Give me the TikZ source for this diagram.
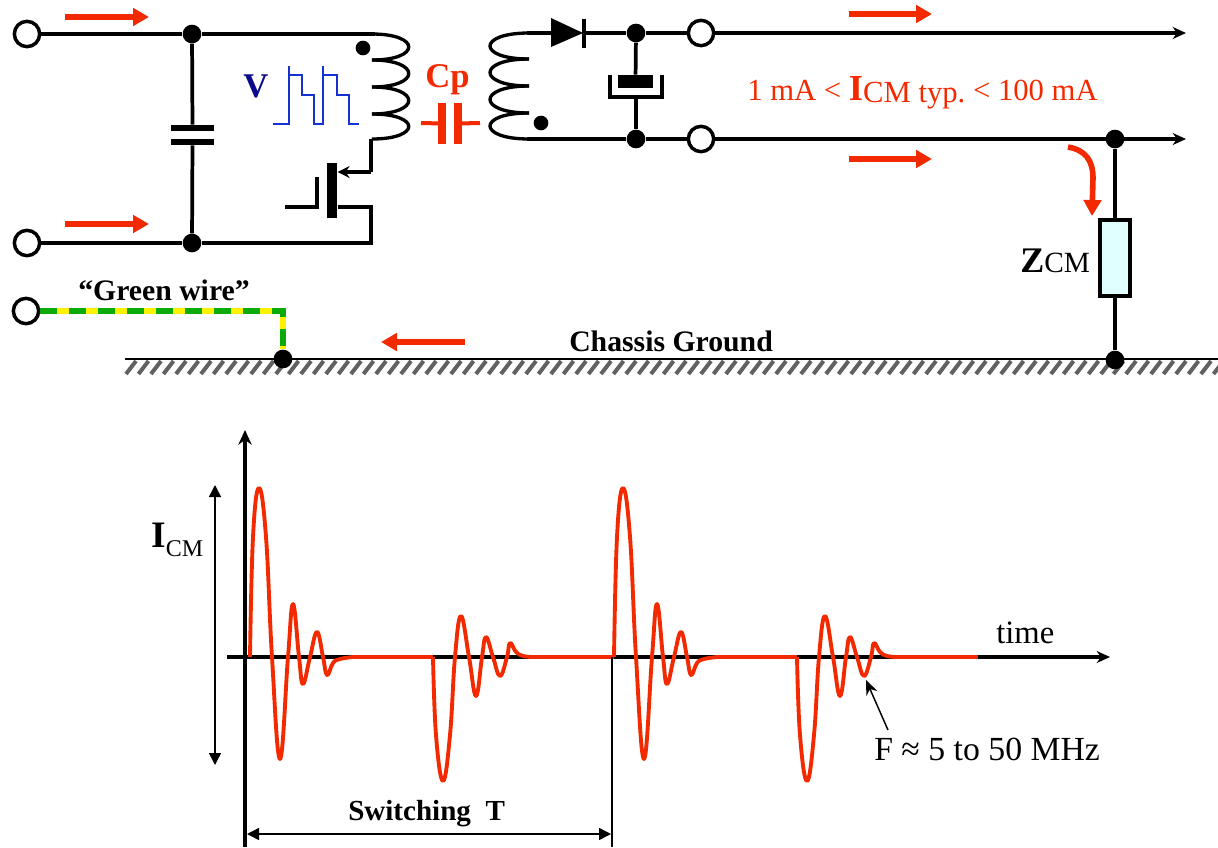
\documentclass[tikz,border=0pt]{standalone}
\usepackage{fontspec}
\usetikzlibrary{arrows.meta}
\setmainfont{Liberation Serif}
\definecolor{rojo}{RGB}{243,42,0}
\definecolor{azul}{RGB}{20,50,210}
\definecolor{marino}{RGB}{10,10,140}
\definecolor{verde}{RGB}{10,170,10}
\definecolor{celeste}{RGB}{224,255,255}
\newcommand{\tam}[1]{\fontsize{#1}{#1}\selectfont}

\begin{document}
\begin{tikzpicture}[   % una unidad = un pixel de la referencia
      x=0.75pt,
      y=-0.75pt,
      line join=miter
    ]
    \tikzstyle{wire}=[draw=black, line width=2.8pt];
    \tikzstyle{coil}=[draw=black, line width=2.5pt];
    \tikzstyle{terminal}=[draw=black, fill=white, circle, line width=2.6pt, minimum size=19pt, inner sep=0pt];
    \tikzstyle{junction}=[fill=black, circle, minimum size=14pt, inner sep=0pt];
    \tikzstyle{polarity}=[fill=black, circle, minimum size=11pt, inner sep=0pt];
    \tikzstyle{plate}=[fill=black, inner sep=0pt];
    \tikzstyle{redplate}=[fill=rojo, inner sep=0pt, minimum width=5.5pt, minimum height=31pt];
    \tikzstyle{current}=[draw=rojo, line width=4.2pt, -{Triangle[length=12pt,width=13pt]}];
    \tikzstyle{curve}=[draw=rojo, line width=2.9pt, line join=round];
    \tikzstyle{thinarrow}=[draw=black, line width=1.1pt, {Triangle[length=9pt,width=9pt]}-{Triangle[length=9pt,width=9pt]}];
    \tikzstyle{outwire}=[wire, -{Stealth[length=10pt,width=9pt]}];
    \tikzstyle{label}=[inner sep=0pt, anchor=base west];
    \useasboundingbox (0,0) rectangle (1218,847);
    %
    % masa
    \foreach \x in {126,138.5,...,1215} {
      \draw[black!62, line width=3pt] (\x,374) -- (\x+10,361);
    }
    \coordinate (ga) at (125,359);
    \coordinate (gb) at (1218,359);
    \draw[line width=2pt] (ga) -- (gb);
    \node [label] (chassis) at (569,351) {\tam{22.3}\textbf{Chassis Ground}};
    %
    % terminales
    \node [terminal] (in1) at (27,34) {};
    \node [terminal] (in2) at (27,243) {};
    \node [terminal] (gw) at (26,311) {};
    \node [terminal] (o1) at (701,33) {};
    \node [terminal] (o2) at (701,139) {};
    %
    % uniones
    \node [junction] (j1) at (192,34) {};
    \node [junction] (j2) at (192,243) {};
    \node [junction] (j3) at (636,33) {};
    \node [junction] (j4) at (636,139) {};
    \node [junction] (j5) at (1115,139) {};
    %
    % extremos de bobinas y salidas
    \coordinate (la) at (375,34);
    \coordinate (lb) at (371,139);
    \coordinate (sa) at (527,33);
    \coordinate (sb) at (527,139);
    \coordinate (out1) at (1186,33);
    \coordinate (out2) at (1186,139);
    %
    % condensador de entrada
    \node [plate, minimum width=32pt, minimum height=4.5pt] (c1a) at (192.5,128) {};
    \node [plate, minimum width=32pt, minimum height=4.5pt] (c1b) at (192.5,142) {};
    \draw[wire] (j1) -- (c1a);
    \draw[wire] (c1b) -- (j2);
    %
    % primario
    \draw[wire] (in1) -- (j1) -- (la);
    \draw[wire] (in2) -- (j2);
    \foreach \ya/\yb in {34/60,60/87,87/114,114/139} {
      \draw[coil] (372,\ya) .. controls (421,\ya) and (421,\yb) .. (372,\yb);
    }
    \node [polarity] (dot1) at (363,48) {};
    %
    % mosfet
    \node [plate, minimum width=8pt, minimum height=41pt] (channel) at (332,190.5) {};
    \coordinate (drain) at (371,172);
    \coordinate (source) at (371,207);
    \coordinate (gatea) at (317,177);
    \coordinate (gateb) at (285,207);
    \draw[coil] (lb) -- (drain);
    \draw[line width=2.5pt, -{Stealth[length=9pt,width=9pt]}] (drain) -- (channel.east |- drain);
    \draw[coil] (channel.east |- source) -- (source) |- (j2);
    \draw[draw=black, line width=3.2pt] (gatea) |- (gateb);
    %
    % forma de onda de tension
    \node [label, text=marino] (vlabel) at (243,97) {\tam{26}\textbf{V}};
    \draw[azul, line width=1.5pt] (273,124) -- (289,124) -- (289,66) -- (289,75) -- (302,75) -- (302,95) -- (314,95)
      -- (314,124) -- (323,124) -- (323,66) -- (323,75) -- (337,75) -- (337,95) -- (349,95) -- (349,124) -- (359,124);
    %
    % capacidad parasita
    \node [label, text=rojo] (cplabel) at (425,87) {\tam{26}\textbf{Cp}};
    \node [redplate] (cpa) at (442,123.5) {};
    \node [redplate] (cpb) at (458,123.5) {};
    \coordinate (cpl) at (421,123);
    \coordinate (cpr) at (480,123);
    \draw[rojo, line width=3pt] (cpl) -- (cpa);
    \draw[rojo, line width=3pt] (cpb) -- (cpr);
    %
    % secundario
    \foreach \ya/\yb in {33/59,59/86,86/113,113/139} {
      \draw[coil] (529,\ya) .. controls (477,\ya) and (477,\yb) .. (529,\yb);
    }
    \node [polarity] (dot2) at (541,123) {};
    %
    % diodo
    \coordinate (da) at (551,33);
    \coordinate (db) at (584,33);
    \fill (551,18) -- (583,33) -- (551,47) -- cycle;
    \draw[line width=3pt] (584,19) -- (584,48);
    \draw[wire] (sa) -- (da);
    \draw[wire] (db) -- (j3) -- (o1);
    \draw[outwire] (o1) -- (out1);
    \draw[wire] (sb) -- (j4) -- (o2);
    \draw[outwire] (o2) -- (out2);
    %
    % condensador electrolitico
    \node [plate, minimum width=26pt, minimum height=10pt] (ca) at (635.5,81.5) {};
    \coordinate (cb) at (636,98);
    \draw[wire] (j3) -- (ca);
    \draw[wire] (cb) -- (j4);
    \draw[line width=2.8pt] (610,75) -- (610,97) -- (662,97) -- (662,75);
    %
    % flechas de corriente
    \foreach \xa/\ya/\xb in {65/17/149,65/224/149,849/14/932,849/159/932,465/342/381} {
      \draw[current] (\xa,\ya) -- (\xb,\ya);
    }
    \draw[current] (1068,147) .. controls (1085,150) and (1093,160) .. (1093,178) -- (1092,216);
    %
    \node [label, text=rojo] (imax) at (747,100) {\tam{23}1 mA < \tam{27.5}\textbf{I}\tam{23}\raisebox{-2pt}{CM typ.} < 100 mA};
    %
    % impedancia de modo comun
    \node [draw=black, fill=celeste, line width=3pt, minimum width=22.5pt, minimum height=57pt, inner sep=0pt] (zcm) at (1115,258) {};
    \node [junction] (j6) at (1115,360) {};
    \draw[wire] (j5) -- (zcm);
    \draw[wire] (zcm) -- (j6);
    \node [label] (zlabel) at (1020,272) {\tam{27}\textbf{Z}\tam{22}CM};
    %
    % cable verde
    \node [junction] (j7) at (283,359) {};
    \coordinate (gc) at (283,311);
    \draw[yellow, line width=3.8pt] (gw) -- (gc) -- (j7);
    \draw[verde, line width=3.8pt, dash pattern=on 12.75pt off 9pt] (gw) -- (gc) -- (j7);
    \node [label] (gwlabel) at (78,300) {\tam{22.3}\textbf{“Green wire”}};
    %
    % ejes
    \coordinate (ya) at (245,847);
    \coordinate (yb) at (245,430);
    \coordinate (xa) at (227,657);
    \coordinate (xb) at (1110,657);
    \draw[line width=2.8pt, -{Stealth[length=10pt,width=9pt]}] (xa) -- (xb);
    \draw[line width=3.6pt, -{Stealth[length=11pt,width=10pt]}] (ya) -- (yb);
    \node [label] (time) at (996,643) {\tam{24.5}time};
    %
    % corriente de modo comun
    \foreach \d in {0,364} {
      \begin{scope}[shift={(\d,0)}]
        \draw[curve] plot[smooth, tension=0.7] coordinates {(250,657) (253,537) (259,488) (266,537) (272,657) (280,759) (288,657) (293,604)
          (299,657) (303,684) (310,657) (317,632) (323,657) (327,675) (333,663) (340,659) (353,657)};
        \draw[curve] (353,657) -- (433,657);
        \draw[curve] plot[smooth, tension=0.7] coordinates {(433,657) (436,735) (443,781) (450,735) (455,657) (461,616) (469,657) (476,696)
          (482,657) (486,637) (493,657) (500,676) (507,657) (510,643) (516,652) (523,656) (533,657)};
        \draw[curve] (533,657) -- (614,657);
      \end{scope}
    }
    %
    % cotas
    \coordinate (ia) at (215,485);
    \coordinate (ib) at (215,765);
    \draw[thinarrow] (ia) -- (ib);
    \node [label] (ilabel) at (151,547) {\tam{28}\textbf{I}\tam{18}\raisebox{-7pt}{CM}};
    \coordinate (ta) at (247,834);
    \coordinate (tb) at (611,834);
    \coordinate (tc) at (612,657);
    \coordinate (td) at (612,847);
    \draw[line width=1.1pt] (tc) -- (td);
    \draw[thinarrow] (ta) -- (tb);
    \node [label] (tlabel) at (348,820) {\tam{21.8}\textbf{Switching\ \ T}};
    %
    % frecuencia
    \coordinate (fa) at (888,730);
    \coordinate (fb) at (866,680);
    \draw[draw=black, line width=1.1pt, -{Stealth[length=11pt,width=9pt]}] (fa) -- (fb);
    \node [label] (flabel) at (874,760) {\tam{25.3}F ≈ 5 to 50 MHz};
  \end{tikzpicture}
\end{document}
